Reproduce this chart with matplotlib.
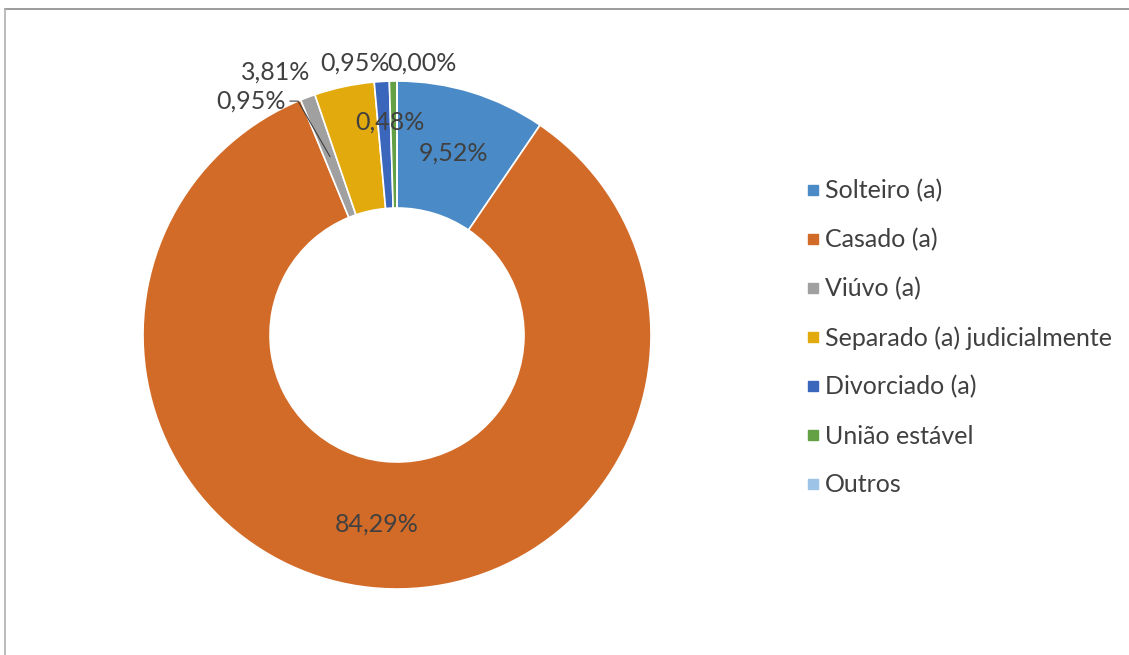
import matplotlib
matplotlib.use("Agg")
import matplotlib.pyplot as plt
from matplotlib.lines import Line2D
import numpy as np

# ---------------------------------------------------------------------
# Data
# ---------------------------------------------------------------------

categories = ["Solteiro (a)", "Casado (a)", "Viúvo (a)",
              "Separado (a) judicialmente", "Divorciado (a)",
              "União estável", "Outros"]
percent = [9.52, 84.29, 0.95, 3.81, 0.95, 0.48, 0.00]

colours = ["#4a8ac6", "#d26b28", "#a0a0a0", "#e2aa0c",
           "#3a66bb", "#64a044", "#9dc3e6"]

# label placement: (radius, offset x pts, offset y pts, leader line)
label_style = [
    (0.75, 0, 0, False),
    (0.75, 0, 0, False),
    (0.75, -32, 40, True),
    (0.75, -59, 55, False),
    (0.75, -22, 59, False),
    (0.84, -3, 0, False),
    (1.07, 18, 0, False),
]

text_colour = "#404040"
font_size = 18
plt.rcParams["font.family"] = ["Lato", "DejaVu Sans"]

fig = plt.figure(figsize=(11.29, 6.55), dpi=100)

ax = fig.add_axes([0.12666, 0.10076, 0.44996, 0.77557])
wedges, _ = ax.pie(percent, colors=colours, startangle=90, counterclock=False,
                   radius=1.0,
                   wedgeprops=dict(width=0.5, edgecolor="white", linewidth=1.2))
ax.set_xlim(-1, 1)
ax.set_ylim(-1, 1)
ax.set_aspect("equal")
ax.axis("off")

for w, p, (r, ox, oy, leader) in zip(wedges, percent, label_style):
    mid = np.deg2rad((w.theta1 + w.theta2) / 2)
    xy = (r * np.cos(mid), r * np.sin(mid))
    txt = f"{p:.2f}%".replace(".", ",")
    if leader:
        ax.annotate(txt, xy=xy, xytext=(ox, oy), textcoords="offset points",
                    ha="right", va="center", fontsize=font_size, color=text_colour,
                    arrowprops=dict(arrowstyle="-", color=text_colour, lw=0.8,
                                    shrinkA=1, shrinkB=0,
                                    connectionstyle="angle,angleA=0,angleB=120,rad=0"),
                    annotation_clip=False)
    else:
        ax.annotate(txt, xy=xy, xytext=(ox, oy), textcoords="offset points",
                    ha="center", va="center", fontsize=font_size, color=text_colour,
                    annotation_clip=False)

handles = [Line2D([], [], marker="s", linestyle="none", markersize=7.5,
                  markerfacecolor=c, markeredgecolor=c) for c in colours]
fig.legend(handles, categories, loc="upper left", bbox_to_anchor=(0.706, 0.742),
           frameon=False, fontsize=font_size, labelcolor=text_colour,
           handlelength=0.5, handletextpad=0.2, labelspacing=1.03,
           borderaxespad=0)

# chart border (top and left edges visible)
fig.add_artist(Line2D([5 / 1129, 1], [1 - 9 / 655, 1 - 9 / 655],
                      transform=fig.transFigure, color="#8a8a8a", lw=1.2))
fig.add_artist(Line2D([5 / 1129, 5 / 1129], [0, 1 - 9 / 655],
                      transform=fig.transFigure, color="#b0b0b0", lw=1.2))

fig.savefig("out.png", dpi=100)
